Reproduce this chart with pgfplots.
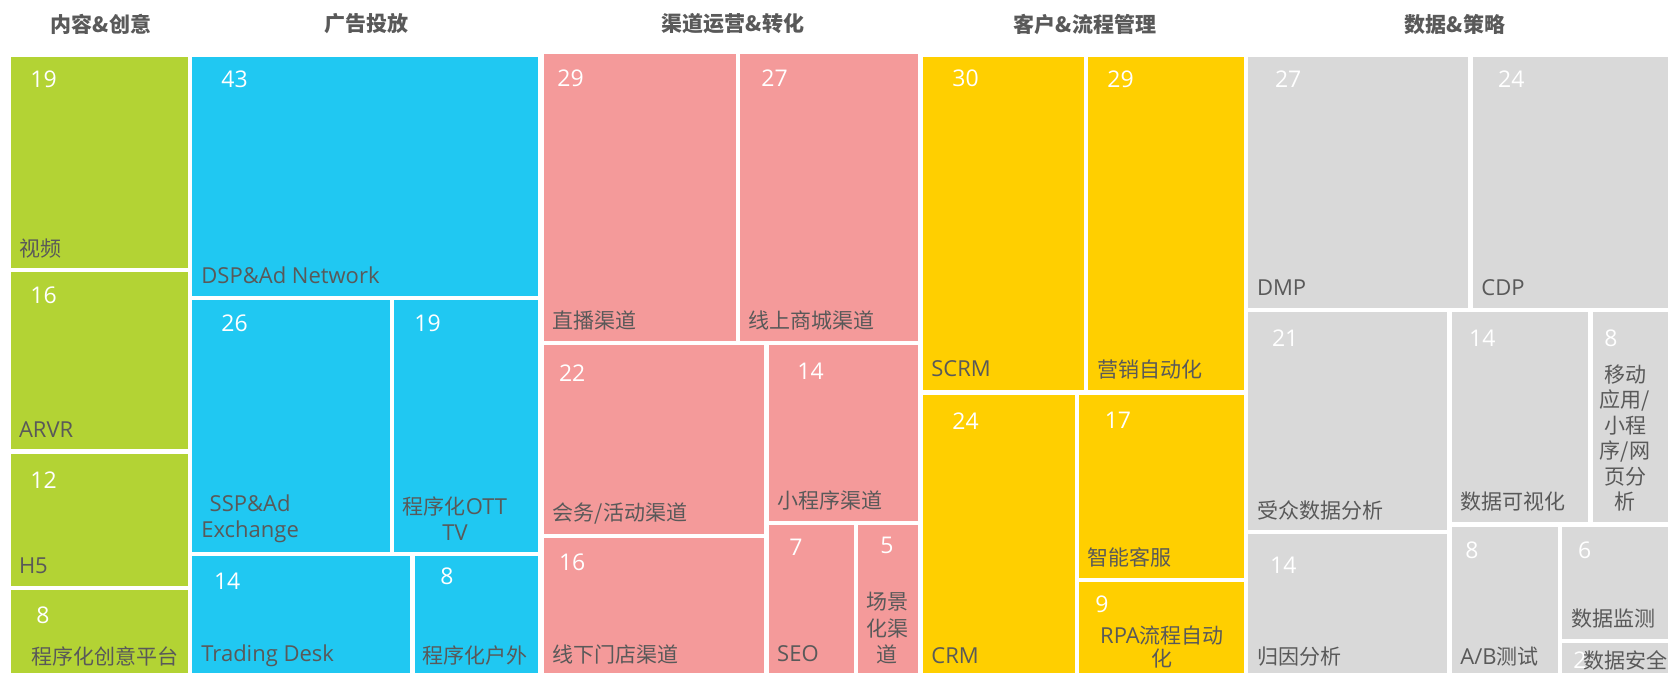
\documentclass[border=0pt]{standalone}
\usepackage{fontspec}
\setmainfont{Noto Sans CJK SC}
\newfontfamily\latf{Open Sans}
\newcommand{\lat}{\latf\fontsize{11}{13}\selectfont}
\usepackage{pgfplots}
\pgfplotsset{compat=1.18}
\definecolor{cg}{HTML}{B3D334}
\definecolor{cb}{HTML}{20C8F2}
\definecolor{cp}{HTML}{F49A9A}
\definecolor{cy}{HTML}{FFCF00}
\definecolor{cgr}{HTML}{D9D9D9}
\definecolor{tx}{HTML}{595959}
\newcommand{\fs}{\fontsize{10.5}{12.6}\selectfont}
\newcommand{\cell}[5]{\addplot[fill=#1,draw=none] coordinates {(#2,#3) (#4,#3) (#4,#5) (#2,#5)} -- cycle;}
\newcommand{\vnum}[3]{\node[anchor=west,inner sep=0pt,text=white,font=\latf\fontsize{11.5}{13}\selectfont] at (axis cs:#1,#2) {#3};}
\newcommand{\lab}[3]{\node[anchor=west,inner sep=0pt,text=tx,font=\fs] at (axis cs:#1,#2) {#3};}
\newcommand{\ttl}[3]{\node[anchor=center,inner sep=0pt,text=tx,font=\bfseries\fs] at (axis cs:#1,#2) {#3};}
\begin{document}
\begin{tikzpicture}
\begin{axis}[scale only axis, width=834.5pt, height=336.5pt,
  xmin=0, xmax=1669, ymin=0, ymax=673, y dir=reverse,
  hide axis, clip=false]
% green
\cell{cg}{11}{57}{188}{268}
\cell{cg}{11}{272}{188}{449}
\cell{cg}{11}{454}{188}{586}
\cell{cg}{11}{590}{188}{673}
% blue
\cell{cb}{192}{57}{537.5}{296}
\cell{cb}{192}{300}{390}{552}
\cell{cb}{394}{300}{537.5}{552}
\cell{cb}{192}{556}{410}{673}
\cell{cb}{415}{556}{537.5}{673}
% pink
\cell{cp}{544}{54}{735.5}{341}
\cell{cp}{740}{54}{918}{341}
\cell{cp}{544}{345}{764}{534}
\cell{cp}{768.5}{345}{918}{521}
\cell{cp}{544}{538}{764}{673}
\cell{cp}{768.5}{525}{853.5}{673}
\cell{cp}{858}{525}{918}{673}
% yellow
\cell{cy}{923}{57}{1083.5}{390}
\cell{cy}{1088}{57}{1244}{390}
\cell{cy}{923}{394.5}{1074.5}{673}
\cell{cy}{1079}{394.5}{1244}{578}
\cell{cy}{1079}{582}{1244}{673}
% gray
\cell{cgr}{1248}{57}{1467.5}{308.5}
\cell{cgr}{1473}{57}{1668}{308.5}
\cell{cgr}{1248}{312.5}{1447}{530}
\cell{cgr}{1452}{312.5}{1588}{522}
\cell{cgr}{1592.5}{312.5}{1668}{522}
\cell{cgr}{1248}{534}{1447}{673}
\cell{cgr}{1452}{526.5}{1558}{673}
\cell{cgr}{1562}{526.5}{1668}{638.5}
\cell{cgr}{1562}{642.5}{1668}{673}
% titles
\ttl{101}{24}{内容\&创意}
\ttl{366.6}{24}{广告投放}
\ttl{733}{24}{渠道运营\&转化}
\ttl{1085}{24}{客户\&流程管理}
\ttl{1455}{24}{数据\&策略}
% numbers
\vnum{30}{79}{19}
\vnum{221}{79}{43}
\vnum{30}{295}{16}
\vnum{221}{323}{26}
\vnum{414}{323}{19}
\vnum{30}{480}{12}
\vnum{36}{615.7}{8}
\vnum{213.6}{581.7}{14}
\vnum{440}{576.7}{8}
\vnum{557}{78}{29}
\vnum{761}{78}{27}
\vnum{952}{78}{30}
\vnum{1107}{79}{29}
\vnum{1274.6}{79}{27}
\vnum{1497.7}{79}{24}
\vnum{558.6}{372.7}{22}
\vnum{797}{371}{14}
\vnum{558.6}{562.7}{16}
\vnum{789}{547}{7}
\vnum{880}{545}{5}
\vnum{952}{420.7}{24}
\vnum{1104.4}{420.7}{17}
\vnum{1095}{604.3}{9}
\vnum{1271.6}{338.3}{21}
\vnum{1468.8}{338}{14}
\vnum{1604}{338}{8}
\vnum{1269.7}{565}{14}
\vnum{1465}{550}{8}
\vnum{1577.7}{550}{6}
\vnum{1573}{660}{2}
% labels
\lab{18.6}{248.3}{视频}
\lab{201}{275.7}{{\lat DSP\&Ad Network}}
\lab{18.6}{429.3}{{\lat ARVR}}
\node[anchor=west,inner sep=0pt,align=center,text=tx,font=\latf\fontsize{11}{13}\selectfont] at (axis cs:201,519) {SSP\&Ad\\Exchange};
\node[anchor=center,inner sep=0pt,align=center,text=tx,font=\fontsize{10.5}{13}\selectfont] at (axis cs:455,519) {程序化{\lat OTT}\\{\lat TV}};
\lab{18.6}{566}{{\lat H5}}
\lab{31.4}{656.7}{程序化创意平台}
\lab{201}{656}{{\lat Trading Desk}}
\lab{422.5}{656}{程序化户外}
\lab{552.5}{320.7}{直播渠道}
\lab{748}{320.7}{线上商城渠道}
\lab{931}{369}{{\lat SCRM}}
\lab{1097}{369.3}{营销自动化}
\lab{1256.6}{287.3}{{\lat DMP}}
\lab{1481}{287.3}{{\lat CDP}}
\lab{552.5}{513.3}{会务/活动渠道}
\lab{777.5}{500.7}{小程序渠道}
\lab{552.5}{654}{线下门店渠道}
\lab{776.8}{654}{{\lat SEO}}
\node[anchor=center,inner sep=0pt,align=center,text=tx,font=\fontsize{10.5}{13.3}\selectfont] at (axis cs:887,628.3) {场景\\化渠\\道};
\lab{931}{656}{{\lat CRM}}
\lab{1087.5}{557.7}{智能客服}
\node[anchor=center,inner sep=0pt,align=center,text=tx,font=\fontsize{10.5}{11.7}\selectfont] at (axis cs:1162,646.7) {{\lat RPA}流程自动\\化};
\lab{1256.6}{510}{受众数据分析}
\lab{1460}{501.7}{数据可视化}
\node[anchor=center,inner sep=0pt,align=center,text=tx,font=\fontsize{10.5}{12.75}\selectfont] at (axis cs:1625,438) {移动\\应用/\\小程\\序/网\\页分\\析};
\lab{1256.6}{656.7}{归因分析}
\lab{1460}{656.7}{{\lat A/B}测试}
\lab{1570.7}{618.3}{数据监测}
\lab{1583.3}{660}{数据安全}
\end{axis}
\pgfresetboundingbox
\useasboundingbox (current axis.south west) rectangle (current axis.north east);
\end{tikzpicture}
\end{document}
